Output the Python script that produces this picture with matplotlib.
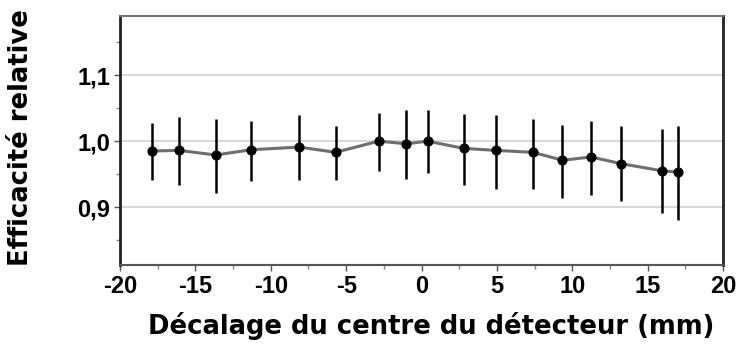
import matplotlib
matplotlib.use('Agg')
import matplotlib.pyplot as plt
from matplotlib.ticker import FixedLocator, MultipleLocator, FuncFormatter

# offset of detector centre (mm) and relative efficiency
offsets = [-17.9, -16.1, -13.65, -11.3, -8.1, -5.7, -2.85, -1.0, 0.4,
           2.8, 4.95, 7.4, 9.35, 11.25, 13.2, 15.95, 17.0]
efficiency = [0.985, 0.986, 0.979, 0.987, 0.991, 0.983, 1.000, 0.996, 1.000,
              0.989, 0.986, 0.983, 0.971, 0.976, 0.966, 0.955, 0.953]
err_high = [1.028, 1.036, 1.034, 1.031, 1.039, 1.023, 1.043, 1.048, 1.048,
            1.041, 1.039, 1.034, 1.024, 1.031, 1.023, 1.018, 1.023]
err_low = [0.941, 0.933, 0.922, 0.939, 0.941, 0.941, 0.954, 0.943, 0.951,
           0.933, 0.928, 0.928, 0.914, 0.918, 0.909, 0.891, 0.880]

x_ticks = [-20, -15, -10, -5, 0, 5, 10, 15, 20]
y_ticks = [0.9, 1.0, 1.1]

plt.rcParams['font.family'] = ['Liberation Sans', 'DejaVu Sans']

fig = plt.figure(figsize=(7.38, 3.47), dpi=100)
ax = fig.add_axes([0.1626, 0.2363, 0.8171, 0.7176])

yerr = [[e - lo for e, lo in zip(efficiency, err_low)],
        [hi - e for e, hi in zip(efficiency, err_high)]]
ax.errorbar(offsets, efficiency, yerr=yerr, fmt='none', ecolor='black',
            elinewidth=1.8, capsize=0, zorder=3)
ax.plot(offsets, efficiency, color='#6e6e6e', lw=2.2, zorder=2)
ax.plot(offsets, efficiency, 'o', color='black', ms=6.3, zorder=4)

ax.set_xlim(-20, 20)
ax.set_ylim(0.812, 1.19)
ax.xaxis.set_major_locator(FixedLocator(x_ticks))
ax.xaxis.set_minor_locator(MultipleLocator(2.5))
ax.yaxis.set_major_locator(FixedLocator(y_ticks))
ax.yaxis.set_minor_locator(MultipleLocator(0.05))
ax.yaxis.set_major_formatter(FuncFormatter(lambda v, p: f'{v:.1f}'.replace('.', ',')))
ax.xaxis.set_major_formatter(FuncFormatter(lambda v, p: f'{v:.0f}'))

ax.grid(axis='y', which='major', color='#d9d9d9', lw=1.5, zorder=0)

ax.tick_params(axis='both', which='major', length=4.5, width=1, color='#555555',
               labelsize=17, pad=2.5)
ax.tick_params(axis='both', which='minor', length=3, width=1, color='#888888')
for lab in ax.get_xticklabels() + ax.get_yticklabels():
    lab.set_fontweight('bold')

ax.spines['left'].set_linewidth(2)
ax.spines['left'].set_color('#222222')
ax.spines['right'].set_linewidth(2)
ax.spines['right'].set_color('#222222')
ax.spines['top'].set_linewidth(1.5)
ax.spines['top'].set_color('#777777')
ax.spines['bottom'].set_linewidth(1.5)
ax.spines['bottom'].set_color('#555555')

fig.text(0.584, 0.06, 'Décalage du centre du détecteur (mm)', fontsize=18.6,
         fontweight='bold', family=['DejaVu Sans'], ha='center', va='center')
fig.text(0.029, 0.604, 'Efficacité relative', fontsize=18.6, rotation=90,
         fontweight='bold', family=['DejaVu Sans'], ha='center', va='center')

plt.savefig('out.png', dpi=100)
plt.close()
